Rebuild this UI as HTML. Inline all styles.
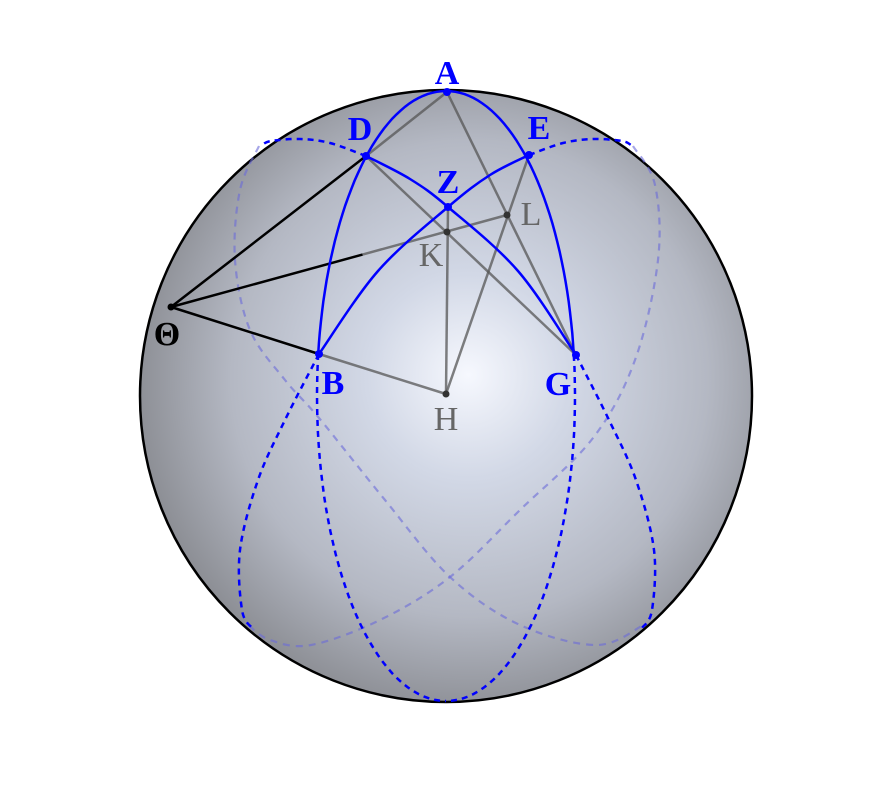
<!DOCTYPE html>
<html><head><meta charset="utf-8"><style>
html,body{margin:0;padding:0;background:#fff;width:894px;height:791px;overflow:hidden}
svg{display:block}
</style></head><body>
<svg id="fig" width="894" height="791" viewBox="0 0 894 791" xmlns="http://www.w3.org/2000/svg">
<defs>
<radialGradient id="sg" cx="470" cy="380" r="340" gradientUnits="userSpaceOnUse" fx="468" fy="375">
<stop offset="0" stop-color="#f6f8fe"/>
<stop offset="0.3" stop-color="#d2d8e6"/>
<stop offset="0.7" stop-color="#b4b8c3"/>
<stop offset="1" stop-color="#8a8c92"/>
</radialGradient>
</defs>
<circle cx="446" cy="396" r="306" fill="url(#sg)" stroke="#000" stroke-width="2.5"/>
<g id="layer"></g>
</svg>
<script>
// point positions (diagram data)
const pointNames = ["A","D","E","Z","K","L","Θ","B","G","H"];
const pointX = [447,366,529,448,447,507,171,319,576,446];
const pointY = [92,156,155,207,232,215,307,354,355,394];
// curve control points
const curveBZE_faint = [[633,146],[655,185],[658,260],[635,360],[593,438],[520,510],[450,577],[380,620],[311,645],[270,640],[247,624]];
const curveDZG_faint = [[259,146],[240,190],[235,260],[250,330],[285,380],[319,418],[385,500],[450,577],[520,625],[597,645],[645,624]];
const curveDZG = [[366,156],[410,179],[448,207],[518,271],[576,355]];
const curveBZE = [[319,354],[378,271],[448,207],[490,175],[529,155]];
const dashBdown = [[319,354],[285,420],[258,480],[240,550],[242,610],[252,628]];
const dashGdown = [[576,355],[609,420],[636,480],[654,550],[652,610],[642,628]];
const dashDleft = [[366,156],[330,143],[300,139],[271,141],[262,145]];
const dashEright = [[529,155],[563,143],[593,139],[622,141],[631,145]];

const NS="http://www.w3.org/2000/svg";
const layer=document.getElementById('layer');
function P(n){const i=pointNames.indexOf(n);return [pointX[i],pointY[i]];}
function smooth(pts){
  let d=`M${pts[0][0]},${pts[0][1]}`;
  for(let i=0;i<pts.length-1;i++){
    const p0=pts[i-1]||pts[i],p1=pts[i],p2=pts[i+1],p3=pts[i+2]||p2;
    const c1=[p1[0]+(p2[0]-p0[0])/6,p1[1]+(p2[1]-p0[1])/6];
    const c2=[p2[0]-(p3[0]-p1[0])/6,p2[1]-(p3[1]-p1[1])/6];
    d+=` C${c1[0]},${c1[1]} ${c2[0]},${c2[1]} ${p2[0]},${p2[1]}`;
  }
  return d;
}
function path(d,stroke,w,dash,op,name){
  const e=document.createElementNS(NS,'path');
  e.setAttribute('d',d);e.setAttribute('fill','none');e.setAttribute('stroke',stroke);
  e.setAttribute('stroke-width',w);if(dash)e.setAttribute('stroke-dasharray',dash);
  if(op)e.setAttribute('stroke-opacity',op);
  
  
  layer.appendChild(e);return e;
}
function line(a,b,stroke,w,op,name){
  path(`M${a[0]},${a[1]} L${b[0]},${b[1]}`,stroke,w,null,op,name);
}
path(smooth(curveBZE_faint),'#6a6ad8',2.2,'7,6',0.6,'back-circle-bze');
path(smooth(curveDZG_faint),'#6a6ad8',2.2,'7,6',0.6,'back-circle-dzg');
const g='#555',go=0.75;
line(P('A'),P('D'),g,2.5,go,'line-ad');
line(P('A'),P('G'),g,2.5,go,'line-ag');
line(P('D'),P('G'),g,2.5,go,'line-dg');
line(P('E'),P('H'),g,2.5,go,'line-eh');
line(P('Z'),P('H'),g,2.5,go,'line-zh');
line(P('B'),P('H'),g,2.5,go,'line-bh');
const Th=P('Θ'),Lp=P('L');
const mid=[Th[0]+(Lp[0]-Th[0])*0.57,Th[1]+(Lp[1]-Th[1])*0.57];
line(mid,Lp,g,2.5,go,'line-kl');
line(Th,mid,'#000',2.5,null,'line-theta-l');
line(Th,P('D'),'#000',2.5,null,'line-theta-d');
line(Th,P('B'),'#000',2.5,null,'line-theta-b');
const cx=446,cy=396,rx=129,ry=305;
function ellArc(side,yStart,yEnd){
  const a0=Math.asin(Math.max(-1,Math.min(1,(yStart-cy)/ry))),a1=Math.asin(Math.max(-1,Math.min(1,(yEnd-cy)/ry)));
  const pts=[];for(let i=0;i<=40;i++){const a=a0+(a1-a0)*i/40;pts.push([cx+side*rx*Math.cos(a),cy+ry*Math.sin(a)]);}
  return 'M'+pts.map(p=>p[0].toFixed(1)+','+p[1].toFixed(1)).join(' L');
}
path(ellArc(-1,91,354),'#0000ff',2.5,null,null,'arc-adb');
path(ellArc(1,91,355),'#0000ff',2.5,null,null,'arc-aeg');
path(ellArc(-1,354,701),'#0000ff',2.5,'6,5',null,'dash-b-bottom');
path(ellArc(1,355,701),'#0000ff',2.5,'6,5',null,'dash-g-bottom');
path(smooth(curveDZG),'#0000ff',2.5,null,null,'arc-dzg');
path(smooth(curveBZE),'#0000ff',2.5,null,null,'arc-bze');
path(smooth(dashBdown),'#0000ff',2.5,'6,5',null,'dash-b-left');
path(smooth(dashGdown),'#0000ff',2.5,'6,5',null,'dash-g-right');
path(smooth(dashDleft),'#0000ff',2.5,'6,5',null,'dash-d-left');
path(smooth(dashEright),'#0000ff',2.5,'6,5',null,'dash-e-right');
const blue=["A","D","E","Z","B","G"];
const labelDX={"A":0,"D":-6,"E":10,"Z":0,"K":-16,"L":24,"Θ":-4,"B":14,"G":-18,"H":0};
const labelDY={"A":-8,"D":-16,"E":-16,"Z":-14,"K":34,"L":10,"Θ":38,"B":40,"G":40,"H":36};
pointNames.forEach((n,i)=>{
  const c=document.createElementNS(NS,'circle');
  c.setAttribute('cx',pointX[i]);c.setAttribute('cy',pointY[i]);c.setAttribute('r',blue.includes(n)?4:3.5);
  c.setAttribute('fill',blue.includes(n)?'#0000ff':(n==='Θ'?'#000':'#333'));
  
  
  layer.appendChild(c);
  const t=document.createElementNS(NS,'text');
  t.setAttribute('x',pointX[i]+labelDX[n]);t.setAttribute('y',pointY[i]+labelDY[n]);
  t.setAttribute('text-anchor','middle');
  t.setAttribute('font-family','"Liberation Serif","DejaVu Serif",serif');
  t.setAttribute('font-size',34);
  if(blue.includes(n)){t.setAttribute('fill','#0000ff');t.setAttribute('font-weight','bold');}
  else if(n==='Θ'){t.setAttribute('fill','#000');t.setAttribute('font-weight','bold');}
  else {t.setAttribute('fill','#666');}
  t.textContent=n;
  
  
  layer.appendChild(t);
});
</script>
</body></html>
